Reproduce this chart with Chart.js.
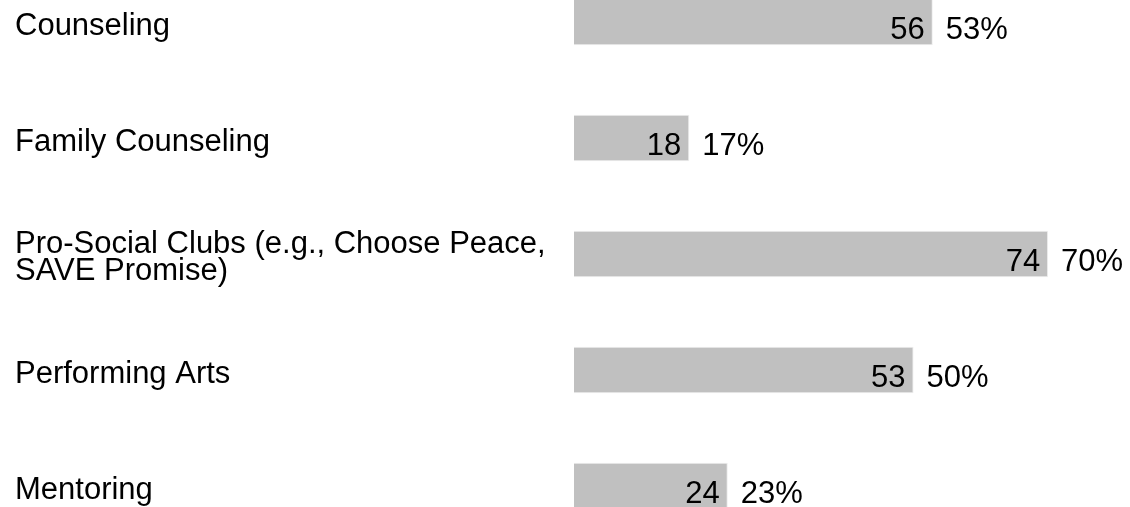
<!DOCTYPE html>
<html>
<head>
<meta charset="utf-8">
<script src="https://cdn.jsdelivr.net/npm/chart.js@4.4.1/dist/chart.umd.min.js"></script>
<style>
  html, body { margin: 0; padding: 0; background: #ffffff; overflow: hidden; width: 1130px; height: 507px; }
  #wrap { position: absolute; left: 0; top: -50px; width: 1130px; height: 608px; }
</style>
</head>
<body>
<div id="wrap"><canvas id="chart"></canvas></div>
<script>
// data
const categories = [
  'Counseling',
  'Family Counseling',
  ['Pro-Social Clubs (e.g., Choose Peace,', 'SAVE Promise)'],
  'Performing Arts',
  'Mentoring'
];
const counts = [56, 18, 74, 53, 24];
const percents = [53, 17, 70, 50, 23];

const fontFamily = 'Arial, "Liberation Sans", Helvetica, sans-serif';

// draws the count inside the bar end and the percent just outside it
const valueLabels = {
  id: 'valueLabels',
  afterDatasetsDraw(chart) {
    const {ctx} = chart;
    const meta = chart.getDatasetMeta(0);
    ctx.save();
    ctx.font = '31px ' + fontFamily;
    ctx.fillStyle = '#000000';
    ctx.textBaseline = 'middle';
    meta.data.forEach((bar, i) => {
      const y = bar.y + 8;
      ctx.textAlign = 'right';
      ctx.fillText(String(counts[i]), bar.x - 8, y);
      ctx.textAlign = 'left';
      ctx.fillText(percents[i] + '%', bar.x + 13, y);
    });
    ctx.restore();
  }
};

const ctx = document.getElementById('chart').getContext('2d');
new Chart(ctx, {
  type: 'bar',
  data: {
    labels: categories,
    datasets: [{
      data: counts,
      backgroundColor: '#c0c0c0',
      borderColor: '#ededed',
      borderWidth: 1,
      barPercentage: 0.4,
      categoryPercentage: 1
    }]
  },
  plugins: [valueLabels],
  options: {
    indexAxis: 'y',
    responsive: true,
    maintainAspectRatio: false,
    animation: false,
    layout: { padding: { left: 15, right: 5, top: 0, bottom: 0 } },
    plugins: {
      legend: { display: false },
      tooltip: { enabled: false }
    },
    scales: {
      x: {
        display: false,
        min: 0,
        max: 86,
        grid: { display: false }
      },
      y: {
        grid: { display: false, drawTicks: false },
        border: { display: false },
        afterFit: (scale) => { scale.width = 559; },
        ticks: {
          crossAlign: 'far',
          padding: 0,
          labelOffset: 4,
          color: '#000000',
          font: { family: fontFamily, size: 31, lineHeight: 0.9 }
        }
      }
    }
  }
});
</script>
</body>
</html>
